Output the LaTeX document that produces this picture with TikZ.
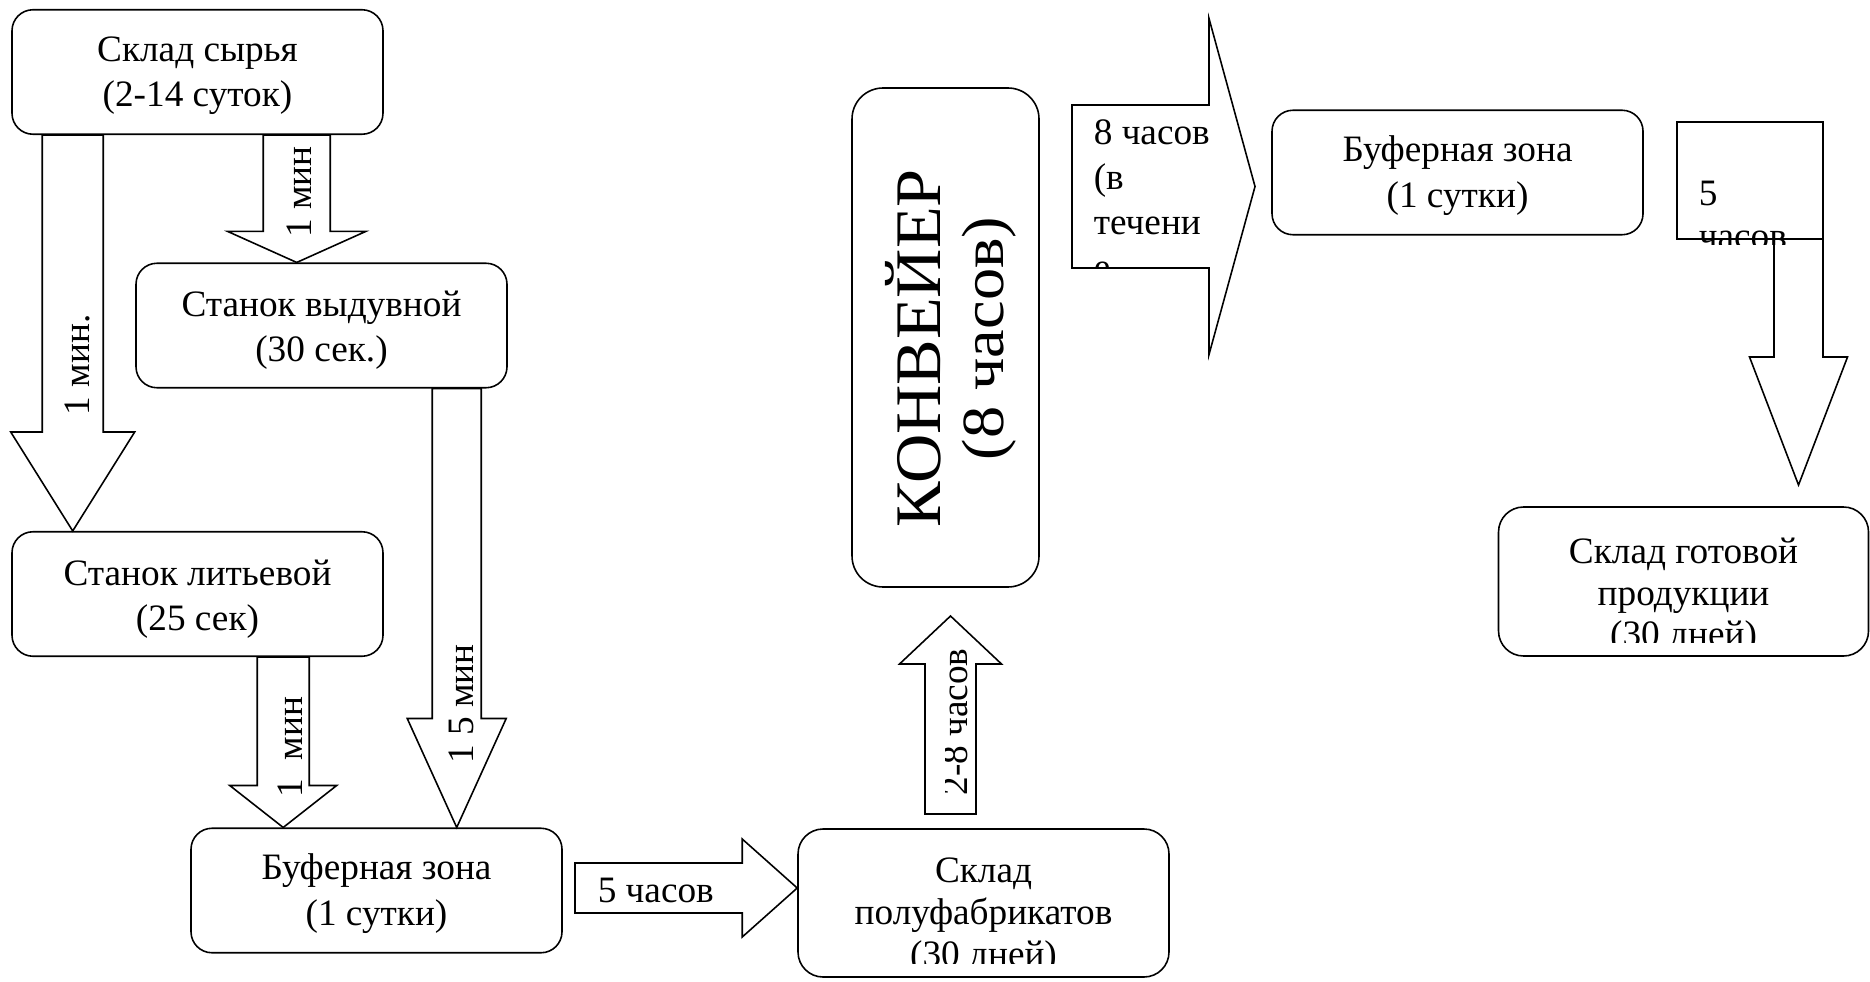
\documentclass[tikz,border=0pt]{standalone}
\usepackage{graphicx}
\usepackage{fontspec}
\setmainfont{Liberation Serif}
\usetikzlibrary{calc}

\newcommand{\bodyfont}{\fontsize{10.6}{11.9}\selectfont}
% block arrow: [style] {start} {tip} {shaft half width} {head half width} {head length}
\newcommand{\blockarrow}[6][]{%
  \coordinate (ba s) at (#2);
  \coordinate (ba t) at (#3);
  \coordinate (ba h) at ($(ba t)!#6!(ba s)$);
  \draw[barrow,#1] ($(ba s)!#4!90:(ba t)$) -- ($(ba h)!#4!90:(ba t)$)
    -- ($(ba h)!#5!90:(ba t)$) -- (ba t) -- ($(ba h)!#5!-90:(ba t)$)
    -- ($(ba h)!#4!-90:(ba t)$) -- ($(ba s)!#4!-90:(ba t)$) -- cycle;}

\tikzset{
  box/.style={draw, rounded corners=2.1mm, minimum width=37.1mm, minimum height=12.45mm,
    inner sep=0pt},
  boxtxt/.style={inner sep=0pt, align=center, font=\fontsize{10.6}{12.9}\selectfont},
  barrow/.style={draw, fill=white, line join=miter},
  lbl/.style={font=\bodyfont, inner sep=0pt},
  vlbl/.style={lbl, rotate=90, anchor=base},
}

\begin{document}
\begin{tikzpicture}[x=0.1mm, y=-0.1mm, line width=0.45pt]
    \useasboundingbox (0,0) rectangle (1870,981);

    % boxes of the left part
    \node[box] (syr) at (197.5,72) {};
    \node[box] (vyd) at (321.5,325.5) {};
    \node[box] (lit) at (197.5,594) {};
    \node[box] (buf1) at (376.5,890.5) {};
    \node[boxtxt] (syr-t) at ($(syr)+(0,4)$) {Склад сырья\\(2-14 суток)};
    \node[boxtxt] (vyd-t) at ($(vyd)+(0,5)$) {Станок выдувной\\(30 сек.)};
    \node[boxtxt] (lit-t) at ($(lit)+(0,5)$) {Станок литьевой\\(25 сек)};
    \node[boxtxt] (buf1-t) at ($(buf1)+(0,3)$) {Буферная зона\\(1 сутки)};

    % semi-finished store and conveyor
    \node[box, minimum height=14.8mm, rounded corners=2.5mm] (pf) at (983.5,903) {};
    \node[box, minimum width=18.7mm, minimum height=49.9mm, rounded corners=3.1mm] (konv) at (945.5,337.5) {};

    % right part
    \node[box] (buf2) at (1457.5,172.5) {};
    \node[boxtxt] (buf2-t) at ($(buf2)+(0,3)$) {Буферная зона\\(1 сутки)};
    \node[box, minimum width=37mm, minimum height=14.9mm, rounded corners=2.5mm] (got) at (1683.5,581.5) {};

    % arrow ends
    \coordinate (a1s) at ($(syr.south west)+(61.5,0)$);
    \coordinate (a1t) at (a1s |- lit.north);
    \coordinate (a2s) at ($(syr.south west)+(285.5,0)$);
    \coordinate (a2t) at (a2s |- vyd.north);
    \coordinate (a3s) at ($(vyd.south west)+(321.5,0)$);
    \coordinate (a3t) at (a3s |- buf1.north);
    \coordinate (a4s) at ($(lit.south west)+(272,0)$);
    \coordinate (a4t) at (a4s |- buf1.north);
    \coordinate (a5s) at (575,888);
    \coordinate (a5t) at (a5s -| pf.west);
    \coordinate (a6s) at (950.5,814);
    \coordinate (a6t) at (950.5,616);
    \coordinate (a7s) at (1072,186.5);
    \coordinate (a7t) at (1255,186.5);
    \coordinate (a8s) at (1798.5,122);
    \coordinate (a8t) at (1798.5,485);

    % block arrows
    \blockarrow{a1s}{a1t}{3.05mm}{6.2mm}{9.9mm}
    \blockarrow{a2s}{a2t}{3.35mm}{6.9mm}{3.1mm}
    \blockarrow{a3s}{a3t}{2.45mm}{4.95mm}{10.9mm}
    \blockarrow{a4s}{a4t}{2.6mm}{5.35mm}{4.2mm}
    \blockarrow{a5s}{a5t}{2.5mm}{4.9mm}{5.5mm}
    \blockarrow{a6s}{a6t}{2.55mm}{5.1mm}{4.8mm}
    \blockarrow{a7s}{a7t}{8.15mm}{16.8mm}{4.6mm}
    \blockarrow{a8s}{a8t}{2.45mm}{4.9mm}{12.8mm}

    % text box on top of the last arrow
    \node[draw, fill=white, minimum width=14.6mm, minimum height=11.7mm, inner sep=0pt] (tb8) at (1750,180.5) {};

    % arrow labels
    \node[vlbl] (l1) at (89,365) {1 мин.};
    \node[vlbl] (l2) at (311,192) {1 мин};
    \node[vlbl] (l3) at (473,704) {1 5 мин};
    \node[vlbl] (l4) at (302,747) {1\ \ мин};
    \node[lbl, anchor=base west] (l5) at (597,902) {5 часов};
    \begin{scope}
        \clip (945,600) rectangle (980,814);
        \node[vlbl] (l6) at (967,722) {2-8 часов};
    \end{scope}
    \begin{scope}
        \clip (1072,105) rectangle (1209,268);
        \node[lbl, anchor=north west, align=left, font=\fontsize{10.6}{12.8}\selectfont] (l7) at (1093,119) {8 часов\\(в\\течени\\е};
    \end{scope}
    \begin{scope}
        \clip (1677,122) rectangle (1823,245);
        \node[lbl, anchor=north west, align=left, font=\fontsize{10.6}{12.4}\selectfont] (l8) at (1698,180) {5\\часов};
    \end{scope}

    % conveyor text
    \node[vlbl, font=\fontsize{18.5}{20}\selectfont] (kt1) at (940,348.5) {\scalebox{1.05}[1]{КОНВЕЙЕР}};
    \node[vlbl, font=\fontsize{17}{18}\selectfont] (kt2) at (1003,338.5) {\scalebox{1.077}[1]{(8 часов)}};

    % texts that run out of their boxes
    \begin{scope}
        \clip (798,829) rectangle (1169,963);
        \node[lbl, anchor=north, align=center] (pft) at (983.5,857) {Склад\\полуфабрикатов\\(30 дней)};
    \end{scope}
    \begin{scope}
        \clip (1499,507) rectangle (1868,642);
        \node[lbl, anchor=north, align=center] (gott) at (1683.5,537) {Склад готовой\\продукции\\(30 дней)};
    \end{scope}
\end{tikzpicture}
\end{document}
